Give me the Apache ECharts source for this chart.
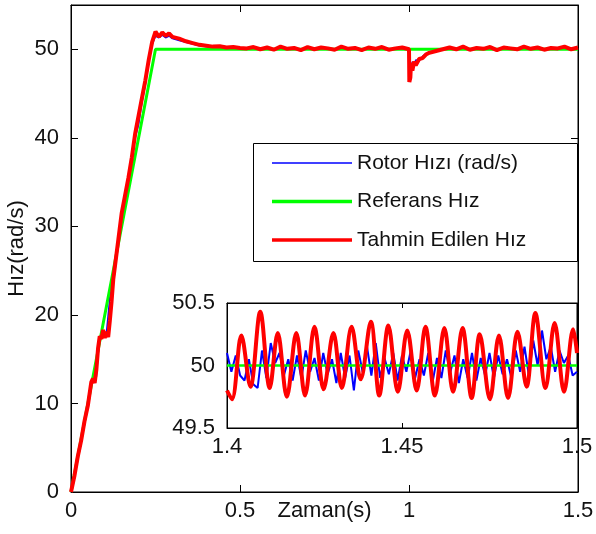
<!DOCTYPE html>
<html>
<head>
    <meta charset="utf-8">
    <title>Hız</title>
    <script type="text/javascript" src="https://cdn.jsdelivr.net/npm/echarts@6/dist/echarts.min.js"></script>
</head>
<body style="margin:0;">
	<div id="main" style="height:534px; width:596px;"></div>
	<script type="text/javascript">
	// main plot: time (s) and speed (rad/s)
	var mainT = [0, 0.01, 0.02, 0.03, 0.04, 0.05, 0.06, 0.065, 0.07, 0.075, 0.08, 0.085, 0.09, 0.095, 0.1, 0.105, 0.11, 0.115, 0.12, 0.125,
	    0.13, 0.14, 0.15, 0.16, 0.17, 0.18, 0.19, 0.2, 0.21, 0.22, 0.23, 0.24, 0.25, 0.26, 0.27, 0.28, 0.29, 0.3,
	    0.32, 0.34, 0.36, 0.38, 0.4, 0.42, 0.44, 0.46, 0.48, 0.5,
	    0.52, 0.54, 0.56, 0.58, 0.6, 0.62, 0.64, 0.66, 0.68, 0.7, 0.72, 0.74, 0.76, 0.78, 0.8, 0.82, 0.84, 0.86, 0.88, 0.9, 0.92, 0.94, 0.96, 0.98,
	    1.0, 1.001, 1.004, 1.006, 1.01, 1.015, 1.02, 1.03, 1.04, 1.05, 1.06, 1.08, 1.1,
	    1.12, 1.14, 1.16, 1.18, 1.2, 1.22, 1.24, 1.26, 1.28, 1.3, 1.32, 1.34, 1.36, 1.38, 1.4, 1.42, 1.44, 1.46, 1.48, 1.5];
	var rotorMain = [0, 1.5, 3.8, 5.5, 7.8, 9.5, 12, 12.5, 12.5, 13, 15.5, 17, 17.6, 18.1, 18, 18, 17.8, 22, 23, 23.5,
	    25, 28, 30.5, 33, 35, 38, 40, 41.5, 44, 46, 48.5, 50.5, 51.5, 51.3, 51.6, 51.3, 51.5, 51.2,
	    51, 50.8, 50.6, 50.4, 50.3, 50.2, 50.25, 50.15, 50.2, 50.1,
	    50.05, 50.15, 50.0, 50.1, 49.95, 50.2, 50.05, 50.1, 49.95, 50.15, 50.0, 50.1, 50.05, 49.95, 50.2, 50.0, 50.1, 49.95, 50.15, 50.0, 50.15, 49.95, 50.05, 50.1,
	    50.0, 47.0, 46.8, 47.5, 48.6, 48.1, 48.8, 48.7, 49.2, 49.5, 49.6, 49.8, 50.0,
	    50.1, 49.95, 50.15, 49.95, 50.1, 50.0, 50.15, 49.9, 50.1, 50.05, 49.95, 50.2, 50.0, 50.1, 49.95, 50.1, 50.05, 50.15, 49.95, 50.1];
	var refT = [0, 0.25, 1.5];
	var refMain = [0, 50, 50];
	var estMain = [0, 1.8, 4, 5.8, 8, 9.8, 12.4, 12.8, 12.3, 13.8, 16.2, 17.6, 17.3, 18.3, 17.4, 18.1, 17.5, 19.4, 21.5, 24,
	    25.5, 28.5, 31.5, 33.5, 35.5, 37.8, 40.5, 42.5, 44.5, 46.5, 48.8, 50.8, 52, 51.4, 51.9, 51.5, 51.8, 51.4,
	    51.2, 50.9, 50.7, 50.5, 50.4, 50.3, 50.35, 50.2, 50.25, 50.15,
	    50.1, 50.25, 50.0, 50.2, 49.95, 50.3, 50.05, 50.15, 49.9, 50.25, 50.0, 50.2, 50.1, 49.95, 50.3, 50.05, 50.15, 49.9, 50.2, 50.05, 50.25, 49.95, 50.1, 50.2,
	    50.0, 46.3, 46.8, 48.5, 47.6, 48.6, 48.2, 48.9, 49.0, 49.4, 49.6, 49.8, 50.0,
	    50.2, 50.0, 50.3, 49.95, 50.15, 50.05, 50.25, 49.9, 50.2, 50.1, 50.0, 50.3, 50.05, 50.2, 49.95, 50.15, 50.1, 50.3, 50.0, 50.2];

	// inset: 1.4 .. 1.5 s
	var insetRefT = [1.4, 1.5];
	var insetRef = [50, 50];
	var insetRotorStart = 1.4, insetRotorStep = 0.00125;
	var insetRotor = [50.1, 49.95, 50.08, 49.92, 49.88, 50.05, 49.85, 49.82,
	    50.12, 49.9, 50.18, 50.02, 50.1, 49.92, 50.05, 49.88,
	    50.08, 49.9, 50.12, 49.95, 50.06, 49.88, 50.1, 49.93,
	    50.05, 49.86, 50.1, 49.9, 50.08, 49.8, 50.12, 49.95,
	    50.15, 49.92, 50.18, 49.9, 50.06, 49.93, 50.1, 49.88,
	    50.08, 49.95, 50.12, 49.9, 50.05, 49.92, 50.1, 49.87,
	    50.06, 49.9, 50.12, 49.94, 50.08, 49.86, 50.05, 49.9,
	    50.1, 49.88, 50.06, 49.92, 50.1, 49.9, 50.08, 49.93,
	    50.05, 49.9, 50.12, 49.95, 50.15, 49.92, 50.2, 50.0,
	    50.28, 50.05, 50.15, 49.95, 50.12, 50.02, 50.08, 49.92,
	    49.95];
	var insetEstT = [1.4, 1.4014, 1.4041, 1.4067, 1.4095, 1.4122, 1.4145, 1.4171, 1.4198, 1.4223, 1.425, 1.4276, 1.4304, 1.4328,
	    1.4356, 1.4382, 1.4411, 1.4435, 1.4461, 1.4488, 1.4515, 1.4542, 1.4567, 1.4594, 1.4621, 1.4646, 1.4673, 1.4699,
	    1.4722, 1.4751, 1.4777, 1.4803, 1.483, 1.4856, 1.4881, 1.491, 1.4936, 1.4963, 1.4989, 1.5];
	var insetEst = [49.8, 49.73, 50.24, 49.83, 50.43, 49.82, 50.26, 49.75, 50.26, 49.76, 50.31, 49.81, 50.26, 49.82,
	    50.31, 49.89, 50.35, 49.76, 50.32, 49.79, 50.28, 49.8, 50.31, 49.76, 50.3, 49.79, 50.3, 49.74,
	    50.25, 49.73, 50.24, 49.74, 50.27, 49.83, 50.42, 49.82, 50.34, 49.79, 50.29, 50.1];

	var names = ['Rotor Hızı (rad/s)', 'Referans Hız', 'Tahmin Edilen Hız'];
	var colors = ['#0000ff', '#00ff00', '#ff0000'];
	var font = 'Liberation Sans';

	function pairs(xs, ys) {
	    return ys.map(function (v, i) { return [xs[i], v]; });
	}
	var rotorInsetPts = insetRotor.map(function (v, i) { return [insetRotorStart + i * insetRotorStep, v]; });

	var myChart = echarts.init(document.getElementById('main'));

	function axisCommon(extra) {
	    var a = {
	        axisLine: {show: true, onZero: false, lineStyle: {color: '#000', width: 1}},
	        axisTick: {show: true, inside: true, length: 7, lineStyle: {color: '#000'}},
	        splitLine: {show: false},
	        nameMoveOverlap: false
	    };
	    for (var k in extra) a[k] = extra[k];
	    return a;
	}
	var smallTick = {show: true, inside: true, length: 5, lineStyle: {color: '#000'}};

	var option = {
	    animation: false,
	    backgroundColor: '#fff',
	    textStyle: {fontFamily: font},
	    grid: [
	        {left: 71, top: 5, right: 18, bottom: 42, show: true, borderColor: '#000', borderWidth: 1,
	            outerBoundsMode: 'none', containLabel: false},
	        {left: 227, top: 303, right: 19, bottom: 106, show: true, borderColor: '#000', borderWidth: 1,
	            backgroundColor: '#fff', zlevel: 1, outerBoundsMode: 'none', containLabel: false}
	    ],
	    legend: {
	        orient: 'vertical',
	        left: 272, top: 151, padding: 0,
	        itemGap: 14.5, itemWidth: 80, itemHeight: 4,
	        symbolKeepAspect: true,
	        textStyle: {fontSize: 21, lineHeight: 24, color: '#111', fontFamily: font},
	        data: [
	            {name: names[0], icon: 'path://M0,0H80V1.5H0Z'},
	            {name: names[1], icon: 'path://M0,0H80V3.5H0Z'},
	            {name: names[2], icon: 'path://M0,0H80V3.5H0Z'}
	        ]
	    },
	    graphic: [{
	        type: 'rect', z: 3,
	        shape: {x: 253.5, y: 143.5, width: 324, height: 118},
	        style: {fill: '#fff', stroke: '#000', lineWidth: 1}
	    }],
	    xAxis: [
	        axisCommon({type: 'value', gridIndex: 0, min: 0, max: 1.5, interval: 0.5, position: 'bottom',
	            axisLabel: {margin: 8, color: '#111', fontSize: 22, fontFamily: font},
	            name: 'Zaman(s)', nameLocation: 'middle', nameGap: 8,
	            nameTextStyle: {color: '#111', fontSize: 22, fontFamily: font, verticalAlign: 'top'}}),
	        axisCommon({type: 'value', gridIndex: 0, min: 0, max: 1.5, interval: 0.5, position: 'top',
	            axisLabel: {show: false}}),
	        axisCommon({type: 'value', gridIndex: 1, min: 1.4, max: 1.5, interval: 0.05, position: 'bottom', zlevel: 1,
	            axisTick: smallTick,
	            axisLabel: {margin: 8, color: '#111', fontSize: 22, fontFamily: font}}),
	        axisCommon({type: 'value', gridIndex: 1, min: 1.4, max: 1.5, interval: 0.05, position: 'top', zlevel: 1,
	            axisTick: smallTick, axisLabel: {show: false}})
	    ],
	    yAxis: [
	        axisCommon({type: 'value', gridIndex: 0, min: 0, max: 55, interval: 10, position: 'left',
	            axisLabel: {margin: 12, showMaxLabel: false, color: '#111', fontSize: 22, fontFamily: font},
	            name: 'Hız(rad/s)', nameLocation: 'middle', nameGap: 43,
	            nameTextStyle: {color: '#111', fontSize: 22, fontFamily: font}}),
	        axisCommon({type: 'value', gridIndex: 0, min: 0, max: 55, interval: 10, position: 'right',
	            axisLabel: {show: false}}),
	        axisCommon({type: 'value', gridIndex: 1, min: 49.5, max: 50.5, interval: 0.5, position: 'left', zlevel: 1,
	            axisTick: smallTick,
	            axisLabel: {margin: 12, color: '#111', fontSize: 22, fontFamily: font}}),
	        axisCommon({type: 'value', gridIndex: 1, min: 49.5, max: 50.5, interval: 0.5, position: 'right', zlevel: 1,
	            axisTick: smallTick, axisLabel: {show: false}})
	    ],
	    series: [
	        {name: names[0], type: 'line', xAxisIndex: 0, yAxisIndex: 0, showSymbol: false, symbol: 'none',
	            data: pairs(mainT, rotorMain), lineStyle: {color: colors[0], width: 1.5}, itemStyle: {color: colors[0]}},
	        {name: names[1], type: 'line', xAxisIndex: 0, yAxisIndex: 0, showSymbol: false, symbol: 'none',
	            data: pairs(refT, refMain), lineStyle: {color: colors[1], width: 3}, itemStyle: {color: colors[1]}},
	        {name: names[2], type: 'line', xAxisIndex: 0, yAxisIndex: 0, showSymbol: false, symbol: 'none',
	            data: pairs(mainT, estMain), lineStyle: {color: colors[2], width: 4}, itemStyle: {color: colors[2]}},
	        {name: names[0], type: 'line', xAxisIndex: 2, yAxisIndex: 2, zlevel: 1, showSymbol: false, symbol: 'none',
	            data: rotorInsetPts, lineStyle: {color: colors[0], width: 2}, itemStyle: {color: colors[0]}},
	        {name: names[1], type: 'line', xAxisIndex: 2, yAxisIndex: 2, zlevel: 1, showSymbol: false, symbol: 'none',
	            data: pairs(insetRefT, insetRef), lineStyle: {color: colors[1], width: 2.5}, itemStyle: {color: colors[1]}},
	        {name: names[2], type: 'line', xAxisIndex: 2, yAxisIndex: 2, zlevel: 1, showSymbol: false, symbol: 'none', smooth: 0.35,
	            data: pairs(insetEstT, insetEst), lineStyle: {color: colors[2], width: 4}, itemStyle: {color: colors[2]}}
	    ]
	};
	myChart.setOption(option);
	</script>
</body>
</html>
